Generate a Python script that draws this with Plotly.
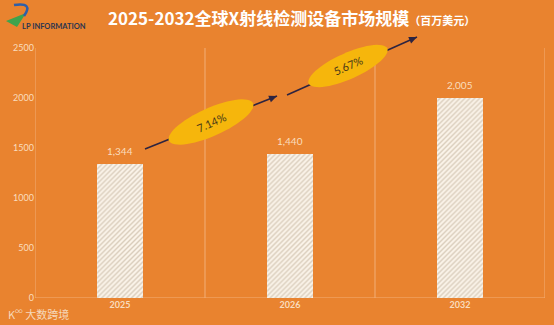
import math
import plotly.graph_objects as go

# Market size, million USD
years = ["2025", "2026", "2032"]
market_size = [1344, 1440, 2005]
y_ticks = [0, 500, 1000, 1500, 2000, 2500]

BG = "#E9832F"
GRID = "#F2AE78"
LABEL = "#F9DDBE"
ELLIPSE = "#F6B60C"
ARROW = "#2E2440"

# Figure geometry (pixels) used to place the decorative callouts
FIG_W, FIG_H = 554, 325
M_L, M_R, M_T, M_B = 35, 9, 48, 27
PW = FIG_W - M_L - M_R
PH = FIG_H - M_T - M_B


def to_paper(px, py):
    return (px - M_L) / PW, (FIG_H - M_B - py) / PH


def pt(px, py):
    return "%.5f,%.5f" % to_paper(px, py)


def ellipse_path(cx, cy, a, b, deg, n=60):
    t = math.radians(deg)
    pts = []
    for i in range(n):
        f = 2 * math.pi * i / n
        px = cx + a * math.cos(f) * math.cos(t) - b * math.sin(f) * math.sin(t)
        py = cy - (a * math.cos(f) * math.sin(t) + b * math.sin(f) * math.cos(t))
        pts.append(pt(px, py))
    return "M " + " L ".join(pts) + " Z"


def head_path(s, e, length=8, half=3.5):
    dx, dy = e[0] - s[0], e[1] - s[1]
    L = math.hypot(dx, dy)
    ux, uy = dx / L, dy / L
    bx, by = e[0] - ux * length, e[1] - uy * length
    p1 = (bx - uy * half, by + ux * half)
    p2 = (bx + uy * half, by - ux * half)
    return f"M {pt(*e)} L {pt(*p1)} L {pt(*p2)} Z"


# growth rates between the displayed years
g1 = market_size[1] / market_size[0] - 1
g2 = (market_size[2] / market_size[1]) ** (1 / (int(years[2]) - int(years[1]))) - 1
growth_labels = [f"{g1 * 100:.2f}%", f"{g2 * 100:.2f}%"]

x_idx = list(range(len(years)))

fig = go.Figure()
fig.add_trace(go.Bar(
    x=x_idx,
    y=market_size,
    width=0.27,
    marker=dict(
        color="#FBF4EA",
        line=dict(width=0),
        pattern=dict(shape="/", fgcolor="#B7A48C", bgcolor="#FBF4EA", size=3.5, solidity=0.4),
    ),
    hoverinfo="skip",
))

shapes = []
# vertical separators at category boundaries
for k in range(len(years) + 1):
    shapes.append(dict(type="line", xref="x", yref="paper", x0=k - 0.5, x1=k - 0.5,
                       y0=0, y1=1, line=dict(color=GRID, width=1), layer="below"))
# baseline
shapes.append(dict(type="line", xref="paper", yref="y", x0=0, x1=1, y0=0, y1=0,
                   line=dict(color=GRID, width=1), layer="below"))

# growth arrows (shaft + head) then ellipses over them
arrows = [((145, 149), (277, 96)), ((287, 95), (417, 37))]
ellipses = [(211, 122, 46, 14, 24), (348, 66, 43, 13, 24)]
for (s, e) in arrows:
    x0, y0 = to_paper(*s)
    x1, y1 = to_paper(*e)
    shapes.append(dict(type="line", xref="paper", yref="paper", x0=x0, y0=y0, x1=x1, y1=y1,
                       line=dict(color=ARROW, width=1.6), layer="above"))
    shapes.append(dict(type="path", xref="paper", yref="paper", path=head_path(s, e),
                       fillcolor=ARROW, line=dict(width=0), layer="above"))
for (cx, cy, a, b, d) in ellipses:
    shapes.append(dict(type="path", xref="paper", yref="paper", path=ellipse_path(cx, cy, a, b, d),
                       fillcolor=ELLIPSE, line=dict(width=0), layer="above"))

# logo mark: blue arc with a green wedge
shapes.append(dict(type="path", xref="paper", yref="paper",
                   path=f"M {pt(6, 21)} L {pt(26, 13)} L {pt(17, 27)} Z",
                   fillcolor="#3FA34D", line=dict(width=0), layer="above"))
shapes.append(dict(type="path", xref="paper", yref="paper",
                   path=f"M {pt(14, 5)} Q {pt(34, 2)} {pt(24, 16)}",
                   line=dict(color="#2F5FA8", width=2.5), layer="above"))

annotations = []
# value labels above the bars
for xi, v in zip(x_idx, market_size):
    annotations.append(dict(xref="x", yref="y", x=xi, y=v, yshift=13, text=f"{v:,}",
                            showarrow=False, xanchor="center", yanchor="middle",
                            font=dict(family="Lato, Open Sans, sans-serif", size=10, color=LABEL)))
for (cx, cy, a, b, d), lab in zip(ellipses, growth_labels):
    x, y = to_paper(cx, cy)
    annotations.append(dict(xref="paper", yref="paper", x=x, y=y, text=lab, showarrow=False,
                            xanchor="center", yanchor="middle", textangle=-d,
                            font=dict(family="Lato, sans-serif", size=11, color="#4A3A18")))

# title
annotations.append(dict(
    xref="paper", yref="paper", x=to_paper(291, 0)[0], y=to_paper(0, 18)[1],
    text="<b>2025-2032全球X射线检测设备市场规模</b><span style='font-size:11px'><b>（百万美元）</b></span>",
    showarrow=False, xanchor="center", yanchor="middle",
    font=dict(family="Noto Sans CJK SC, Lato, sans-serif", size=17, color="#FFFFFF")))
# logo text
annotations.append(dict(
    xref="paper", yref="paper", x=to_paper(20, 0)[0], y=to_paper(0, 27)[1],
    text="<b>LP INFORMATION</b>", showarrow=False, xanchor="left", yanchor="middle",
    font=dict(family="Lato, sans-serif", size=7.5, color="#2B3550")))
# watermark
annotations.append(dict(
    xref="paper", yref="paper", x=to_paper(6, 0)[0], y=to_paper(0, 313)[1],
    text="K<sup>∞</sup> 大数跨境", showarrow=False, xanchor="left", yanchor="middle",
    font=dict(family="Noto Sans CJK SC, sans-serif", size=11, color="#F6D8BC")))

fig.update_layout(
    width=FIG_W, height=FIG_H,
    margin=dict(l=M_L, r=M_R, t=M_T, b=M_B),
    paper_bgcolor=BG, plot_bgcolor=BG,
    showlegend=False,
    bargap=0,
    shapes=shapes,
    annotations=annotations,
    xaxis=dict(
        range=[-0.5, len(years) - 0.5],
        tickmode="array", tickvals=x_idx, ticktext=[f"<b>{y}</b>" for y in years],
        showgrid=False, zeroline=False, showline=False, ticks="",
        tickfont=dict(family="Lato, sans-serif", size=9, color=LABEL),
    ),
    yaxis=dict(
        range=[0, 2500], tickmode="array", tickvals=y_ticks,
        showgrid=False, zeroline=False, showline=False, ticks="",
        tickfont=dict(family="Lato, sans-serif", size=9, color=LABEL),
    ),
)

fig.write_html("out.html")
